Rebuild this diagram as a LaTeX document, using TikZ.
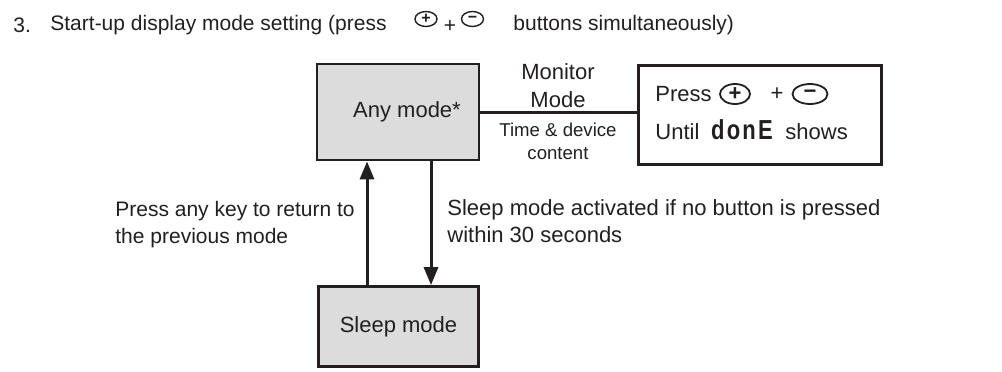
\documentclass[tikz,border=0pt]{standalone}
\usepackage{fontspec}
\setmainfont{Liberation Sans}
\newfontfamily\segfont[LetterSpace=10]{Liberation Sans}
\usetikzlibrary{arrows.meta,shapes.geometric,positioning}

\definecolor{ink}{HTML}{231F20}
\definecolor{boxgray}{HTML}{DCDCDC}

\newcommand{\mainsz}{\fontsize{11}{13.5}\selectfont}
\newcommand{\titlesz}{\fontsize{10.5}{13}\selectfont}
\newcommand{\smallsz}{\fontsize{9.3}{11.5}\selectfont}

\tikzset{
  modebox/.style={draw=ink, line width=1.4pt, fill=boxgray, text=ink, font=\mainsz},
  txt/.style={inner sep=0pt, text=ink, font=\mainsz},
  btn/.style={ellipse, draw=ink, line width=0.9pt, inner sep=0pt, text=ink,
    minimum width=15pt, minimum height=10pt, font=\mainsz\bfseries},
  btnsm/.style={btn, line width=0.7pt, minimum width=11pt, minimum height=7.5pt,
    font=\fontsize{8}{8}\selectfont\bfseries},
  conn/.style={draw=ink, line width=1.5pt},
  arr/.style={conn, -{Triangle[length=9pt,width=7pt]}}
}

\begin{document}
\begin{tikzpicture}[x=0.5pt,y=-0.5pt]
  \useasboundingbox (0,0) rectangle (1002,371);

  \node[txt, font=\titlesz, anchor=west] (num) at (13,25) {3.};
  \node[txt, font=\titlesz, anchor=west] (ttl) at (50,25) {Start-up display mode setting (press};
  \node[btnsm] (tplus) at (426,19) {+};
  \node[txt, font=\titlesz] (tadd) at (450,26) {+};
  \node[btnsm] (tminus) at (472.5,19) {−};
  \node[txt, font=\titlesz, anchor=west] (ttl2) at (513,25) {buttons simultaneously)};

  \node[modebox, minimum width=81pt, minimum height=48pt] (any) at (398,112) {\hspace*{9pt}Any mode*};
  \node[modebox, fill=white, minimum width=121.5pt, minimum height=49.5pt] (press) at (760,115) {};
  \node[modebox, minimum width=80pt, minimum height=40pt] (sleep) at (398.5,326.5) {Sleep mode};

  \draw[conn] (any.east) -- (any.east -| press.west);
  \node[txt, align=center, font=\fontsize{11}{14}\selectfont] (monlbl) at (558,86) {Monitor\\Mode};
  \node[txt, align=center, font=\smallsz] (timelbl) at (558,141.5) {Time \& device\\content};

  \node[txt, anchor=west] (presstxt) at (655,94) {Press};
  \node[btn] (pplus) at (735,94) {+};
  \node[txt] (padd) at (777,94) {+};
  \node[btn, minimum width=17.5pt] (pminus) at (810,94) {−};
  \node[txt, anchor=west] (until) at (655,132) {Until};
  \node[txt, font=\segfont\bfseries\fontsize{11}{13}\selectfont] (done) at (742,130) {\scalebox{1}[1.25]{donE}};
  \node[txt, anchor=west] (shows) at (785,132) {shows};

  \coordinate (upx) at (367,0);
  \coordinate (dnx) at (431,0);
  \draw[arr] (upx |- sleep.north) -- (upx |- any.south);
  \draw[arr] (dnx |- any.south) -- (dnx |- sleep.north);

  \node[txt, anchor=west, align=left, font=\fontsize{10.5}{13.5}\selectfont] (backlbl) at (115,225) {Press any key to return to\\the previous mode};
  \node[txt, anchor=west, align=left] (sleeplbl) at (447,221.5) {Sleep mode activated if no button is pressed\\within 30 seconds};
\end{tikzpicture}
\end{document}
